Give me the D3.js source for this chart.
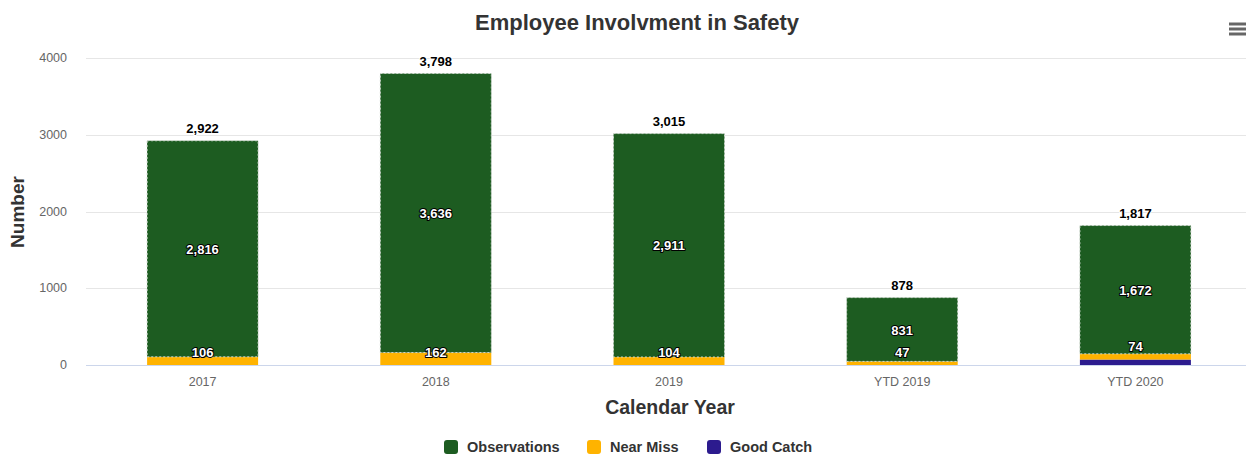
<!DOCTYPE html>
<html><head><meta charset="utf-8">
<script src="https://cdn.jsdelivr.net/npm/d3@7"></script>
<style>
html,body{margin:0;padding:0;background:#fff;}
svg{display:block;font-family:"Liberation Sans",Arial,sans-serif;}
</style></head>
<body>
<svg id="chart" width="1246" height="455"></svg>
<script>
const categories = ["2017","2018","2019","YTD 2019","YTD 2020"];
const observations = [2816,3636,2911,831,1672];
const nearMiss = [106,162,104,47,74];
const goodCatch = [0,0,0,0,71];
const yTicks = [0,1000,2000,3000,4000];
const seriesNames = ["Observations","Near Miss","Good Catch"];
const seriesColors = ["#1d5c21","#ffb300","#2c1b8e"];

const svg = d3.select("#chart");
const margin = {left:86, top:58, bottom:90};
const plotW = 1166;

const x = d3.scaleBand().domain(categories).range([margin.left, margin.left+plotW]).paddingInner(0).paddingOuter(0);
const y = d3.scaleLinear().domain([0,4000]).range([365,58]);

// gridlines
svg.append("g").selectAll("line").data(yTicks.filter(d=>d>0)).join("line")
  .attr("x1",margin.left).attr("x2",1246)
  .attr("y1",d=>Math.round(y(d))+0.5).attr("y2",d=>Math.round(y(d))+0.5)
  .attr("stroke","#e6e6e6").attr("stroke-width",1);

// y tick labels
svg.append("g").selectAll("text").data(yTicks).join("text")
  .attr("x",67).attr("y",d=>y(d)+4)
  .attr("text-anchor","end").attr("font-size",12.5).attr("fill","#666")
  .text(d=>d);

// stack
const rows = categories.map((c,i)=>({cat:c, Observations:observations[i], "Near Miss":nearMiss[i], "Good Catch":goodCatch[i]}));
const stack = d3.stack().keys(["Good Catch","Near Miss","Observations"]);
const stacked = stack(rows);
const colorOf = k => seriesColors[seriesNames.indexOf(k)];
const barW = 111;

stacked.forEach(layer=>{
  svg.append("g").selectAll("rect").data(layer.filter(d=>d[1]-d[0]>0)).join("rect")
    .attr("x",d=>x(d.data.cat)+x.bandwidth()/2-barW/2)
    .attr("width",barW)
    .attr("y",d=>y(d[1]))
    .attr("height",d=>y(d[0])-y(d[1]))
    .attr("fill",colorOf(layer.key))
    .attr("stroke",layer.key==="Observations"?"#cfd8cf":"none")
    .attr("stroke-dasharray","2,2")
    .attr("stroke-width",1);
});

// x axis line
svg.append("line").attr("x1",margin.left).attr("x2",1246).attr("y1",365.5).attr("y2",365.5)
  .attr("stroke","#ccd6eb").attr("stroke-width",1);

// x tick labels
svg.append("g").selectAll("text").data(categories).join("text")
  .attr("x",d=>x(d)+x.bandwidth()/2).attr("y",386)
  .attr("text-anchor","middle").attr("font-size",12.5).attr("fill","#666")
  .text(d=>d);

// data labels
const fmt = d3.format(",");
function addLabel(cx, cy, txt){
  svg.append("text").attr("x",cx).attr("y",cy+5).attr("text-anchor","middle")
    .attr("font-size",13).attr("font-weight","bold").attr("fill","#fff")
    .attr("stroke","#000").attr("stroke-width",2).attr("stroke-linejoin","round")
    .attr("paint-order","stroke").text(txt);
}
stacked.forEach(layer=>{
  if(layer.key==="Good Catch") return;
  layer.forEach(d=>{
    const v = d[1]-d[0]; if(v<=0) return;
    const cx = x(d.data.cat)+x.bandwidth()/2;
    const bottom = y(d[0]), top = y(d[1]);
    const cy = Math.min((bottom+top)/2, bottom-13.5);
    addLabel(cx, cy, fmt(v));
  });
});

// totals
svg.append("g").selectAll("text").data(rows).join("text")
  .attr("x",d=>x(d.cat)+x.bandwidth()/2)
  .attr("y",d=>y(d.Observations+d["Near Miss"]+d["Good Catch"])-8)
  .attr("text-anchor","middle").attr("font-size",13).attr("font-weight","bold").attr("fill","#000")
  .attr("stroke","#fff").attr("stroke-width",2).attr("paint-order","stroke").attr("stroke-linejoin","round")
  .text(d=>fmt(d.Observations+d["Near Miss"]+d["Good Catch"]));

// title
svg.append("text").attr("x",637).attr("y",30).attr("text-anchor","middle")
  .attr("font-size",22).attr("font-weight","bold").attr("fill","#333")
  .text("Employee Involvment in Safety");

// axis titles
svg.append("text").attr("x",670).attr("y",414).attr("text-anchor","middle")
  .attr("font-size",19.5).attr("font-weight","bold").attr("fill","#333").text("Calendar Year");
svg.append("text").attr("transform","translate(24,212) rotate(-90)").attr("text-anchor","middle")
  .attr("font-size",19).attr("font-weight","bold").attr("fill","#333").text("Number");

// menu icon
[0,5,10].forEach(o=>{
  svg.append("line").attr("x1",1229).attr("x2",1246).attr("y1",24+o).attr("y2",24+o)
    .attr("stroke","#666").attr("stroke-width",3);
});

// legend
const legendItems = [{n:"Observations",x:444},{n:"Near Miss",x:587},{n:"Good Catch",x:707}];
legendItems.forEach((it,i)=>{
  svg.append("rect").attr("x",it.x).attr("y",440).attr("width",14).attr("height",14)
    .attr("rx",3).attr("fill",seriesColors[i]);
  svg.append("text").attr("x",it.x+23).attr("y",452).attr("font-size",14.5).attr("font-weight","bold")
    .attr("fill","#333").text(it.n);
});
</script>
</body></html>
